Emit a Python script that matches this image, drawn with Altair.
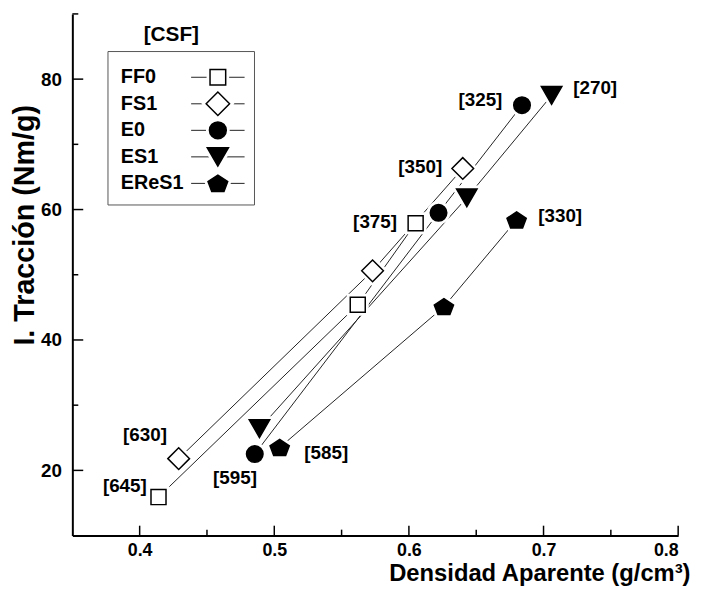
import altair as alt
import pandas as pd

FONT = "Liberation Sans"

# ---------------- data ----------------
series = ["FF0", "FS1", "E0", "ES1", "EReS1"]

ff0_x = [0.414, 0.562, 0.605]
ff0_y = [15.9, 45.4, 57.9]
ff0_lab = ["[645]", "", "[375]"]

fs1_x = [0.429, 0.573, 0.640]
fs1_y = [21.8, 50.6, 66.3]
fs1_lab = ["[630]", "", "[350]"]

e0_x = [0.4855, 0.622, 0.684]
e0_y = [22.5, 59.5, 76.0]
e0_lab = ["[595]", "", "[325]"]

es1_x = [0.489, 0.643, 0.706]
es1_y = [26.4, 61.8, 77.5]
es1_lab = ["", "", "[270]"]

eres1_x = [0.504, 0.626, 0.680]
eres1_y = [23.5, 45.1, 58.4]
eres1_lab = ["[585]", "", "[330]"]

x_major = [0.4, 0.5, 0.6, 0.7, 0.8]
x_minor = [0.45, 0.55, 0.65, 0.75]
y_major = [20, 40, 60, 80]
y_minor = [30, 50, 70, 90]

# ---------------- layout / style ----------------
W, H = 612, 527
label_offsets = {
    "[645]": (-34, -11), "[375]": (-41, -1),
    "[630]": (-34, -24), "[350]": (-43, -1),
    "[595]": (-20, 24), "[325]": (-42, -5),
    "[270]": (44, -7),
    "[585]": (47, 6), "[330]": (44, -4),
}
PENT = "M0,-0.8L0.95,-0.17L0.59,0.78L-0.59,0.78L-0.95,-0.17Z"
DIAM = "M-1,0L0,-1L1,0L0,1Z"
shapes = ["square", DIAM, "circle", "triangle-down", PENT]
fills = ["white", "white", "black", "black", "black"]
sizes = [230, 480, 280, 430, 420]
legend_sizes = [250, 560, 290, 460, 440]

rows = []
for s, xv, yv, lv in zip(series,
                         [ff0_x, fs1_x, e0_x, es1_x, eres1_x],
                         [ff0_y, fs1_y, e0_y, es1_y, eres1_y],
                         [ff0_lab, fs1_lab, e0_lab, es1_lab, eres1_lab]):
    for i, (a, b, l) in enumerate(zip(xv, yv, lv)):
        rows.append({"series": s, "x": a, "y": b, "label": l, "idx": i})
df = pd.DataFrame(rows)

x_scale = alt.Scale(domain=[0.35, 0.8], nice=False, zero=False)
y_scale = alt.Scale(domain=[10, 90], nice=False, zero=False)

x_axis = alt.Axis(values=x_major, format=".1f", ticks=False, grid=False,
                  domainColor="black", domainWidth=2,
                  labelFont=FONT, labelFontSize=18, labelFontWeight="bold",
                  labelColor="black", labelPadding=6,
                  title="Densidad Aparente (g/cm³)", titleFont=FONT,
                  titleFontSize=24, titleFontWeight="bold", titleColor="black",
                  titleX=624, titleY=45, titleAlign="right",
                  titleBaseline="alphabetic")
y_axis = alt.Axis(values=y_major, ticks=False, grid=False,
                  domainColor="black", domainWidth=2,
                  labelFont=FONT, labelFontSize=19, labelFontWeight="bold",
                  labelColor="black", labelPadding=11,
                  title="I. Tracción (Nm/g)", titleFont=FONT,
                  titleFontSize=29, titleFontWeight="bold", titleColor="black",
                  titleX=-39, titleY=213, titleAngle=270, titleAlign="center",
                  titleBaseline="alphabetic")

X = alt.X("x:Q", scale=x_scale, axis=x_axis)
Y = alt.Y("y:Q", scale=y_scale, axis=y_axis)

base = alt.Chart(df)

lines = base.mark_line(color="#222", strokeWidth=1).encode(
    x=X, y=Y, detail="series:N", order="idx:Q")
layers = [lines]

# halos (gap between lines and markers), then markers
for s, shp, sz in zip(series, shapes, sizes):
    layers.append(base.transform_filter(alt.datum.series == s).mark_point(
        filled=True, fill="white", stroke="white", strokeWidth=7, opacity=1,
        shape=shp, size=sz).encode(x=X, y=Y))
for s, shp, sz, fc in zip(series, shapes, sizes, fills):
    layers.append(base.transform_filter(alt.datum.series == s).mark_point(
        filled=True, fill=fc, stroke="black", strokeWidth=1.5, opacity=1,
        shape=shp, size=sz).encode(x=X, y=Y))

# point labels
for _, r in df[df["label"] != ""].iterrows():
    dx, dy = label_offsets[r["label"]]
    layers.append(
        alt.Chart(pd.DataFrame([r])).mark_text(
            dx=dx, dy=dy, font=FONT, fontSize=19, fontWeight="bold",
            color="black", align="center", baseline="middle"
        ).encode(x=X, y=Y, text="label:N"))

# inward axis ticks
xt_major = alt.Chart(pd.DataFrame({"x": x_major})).mark_rule(
    color="black", strokeWidth=1.5).encode(x=X, y=alt.value(H), y2=alt.value(H - 10))
xt_minor = alt.Chart(pd.DataFrame({"x": x_minor})).mark_rule(
    color="black", strokeWidth=1.5).encode(x=X, y=alt.value(H), y2=alt.value(H - 6))
yt_major = alt.Chart(pd.DataFrame({"y": y_major})).mark_rule(
    color="black", strokeWidth=1.5).encode(y=Y, x=alt.value(0), x2=alt.value(11))
yt_minor = alt.Chart(pd.DataFrame({"y": y_minor})).mark_rule(
    color="black", strokeWidth=1.5).encode(y=Y, x=alt.value(0), x2=alt.value(6))
layers += [xt_major, xt_minor, yt_major, yt_minor]

# legend
one = pd.DataFrame({"a": [0]})
layers.append(alt.Chart(one).mark_rect(fill="white", stroke="#555", strokeWidth=1).encode(
    x=alt.value(36), x2=alt.value(184), y=alt.value(38), y2=alt.value(193)))
layers.append(alt.Chart(one).mark_text(
    text="[CSF]", font=FONT, fontSize=21, fontWeight="bold", color="black",
    align="center", baseline="middle").encode(x=alt.value(100), y=alt.value(21)))
for i, (s, shp, sz, fc) in enumerate(zip(series, shapes, legend_sizes, fills)):
    ry = 64 + 26.8 * i
    c = alt.Chart(pd.DataFrame({"series": [s]}))
    layers.append(c.mark_text(font=FONT, fontSize=20, fontWeight="bold", color="black",
                              align="left", baseline="middle").encode(
        x=alt.value(49), y=alt.value(ry), text="series:N"))
    layers.append(c.mark_rule(color="#222", strokeWidth=1).encode(
        x=alt.value(120), x2=alt.value(174), y=alt.value(ry)))
    layers.append(c.mark_point(filled=True, fill="white", stroke="white", strokeWidth=7,
                               opacity=1, shape=shp, size=sz).encode(
        x=alt.value(147), y=alt.value(ry)))
    layers.append(c.mark_point(filled=True, fill=fc, stroke="black", strokeWidth=1.5,
                               opacity=1, shape=shp, size=sz).encode(
        x=alt.value(147), y=alt.value(ry)))

chart = alt.layer(*layers).properties(
    width=W, height=H,
    autosize=alt.AutoSizeParams(type="none"),
    padding={"left": 65, "top": 3, "right": 16, "bottom": 54},
    background="white",
).configure_view(stroke=None)

chart.save("out.html", embed_options={"renderer": "svg", "actions": False})
